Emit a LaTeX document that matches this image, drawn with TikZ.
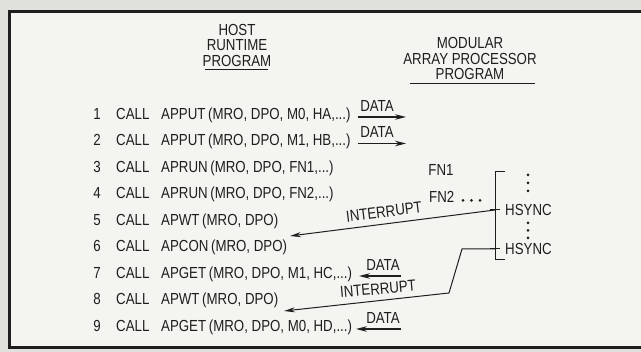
\documentclass[tikz,border=0pt]{standalone}
\usepackage{fontspec}
\setmainfont[FakeStretch=0.83]{Liberation Sans}
\usetikzlibrary{arrows.meta}
\definecolor{paper}{HTML}{F4F4F1}
\definecolor{margin}{HTML}{E0E0DD}
\definecolor{ink}{HTML}{1E1E1E}

\begin{document}
\begin{tikzpicture}[x=1pt, y=-1pt,
    txt/.style={inner sep=0pt, text=ink, font=\fontsize{16}{15.5}\selectfont},
    dataarrow/.style={draw=ink, line width=1.3pt, -{Stealth[length=11pt, width=5.5pt]}},
    intarrow/.style={draw=ink, line width=1pt, -{Stealth[length=11pt, width=5pt]}},
    bracketline/.style={draw=ink, line width=1pt},
    dot/.style={fill=ink}]
    \useasboundingbox (0,0) rectangle (641,352);

    % Paper and the heavy frame
    \fill[margin] (0,0) rectangle (641,352);
    \fill[paper] (9,10) rectangle (641,349);
    \draw[ink, line width=3pt] (641,11.5) -- (9.5,11.5) -- (9.5,347.5) -- (641,347.5);

    % Column headings
    \node[txt, align=center] (host) at (237,45) {HOST\\RUNTIME\\PROGRAM};
    \draw[ink, line width=1pt] (205,70) -- (268,70);
    \node[txt, align=center] (map) at (470,58.5) {MODULAR\\ARRAY PROCESSOR\\PROGRAM};
    \draw[ink, line width=1pt] (410,83.5) -- (535,83.5);

    % The nine calls
    \foreach \i/\fn in {1/{APPUT\,(MRO, DPO, M0, HA,...)},
                        2/{APPUT\,(MRO, DPO, M1, HB,...)},
                        3/{APRUN\,(MRO, DPO, FN1,...)},
                        4/{APRUN\,(MRO, DPO, FN2,...)},
                        5/{APWT\,(MRO, DPO)},
                        6/{APCON\,(MRO, DPO)},
                        7/{APGET\,(MRO, DPO, M1, HC,...)},
                        8/{APWT\,(MRO, DPO)},
                        9/{APGET\,(MRO, DPO, M0, HD,...)}} {
        \node[txt, anchor=base] (n\i) at (97,{119.5+26.5*(\i-1)}) {\i};
        \node[txt, anchor=base west] (c\i) at (116,{119.5+26.5*(\i-1)}) {CALL};
        \node[txt, anchor=base west] (f\i) at (161,{119.5+26.5*(\i-1)}) {\fn};
    }

    % Data transfers
    \coordinate (d1a) at (358,117);
    \coordinate (d1b) at (406,117);
    \draw[dataarrow] (d1a) -- (d1b);
    \node[txt] (d1) at (377,106) {DATA};
    \coordinate (d2a) at (358,143.5);
    \coordinate (d2b) at (406,143.5);
    \draw[dataarrow] (d2a) -- (d2b);
    \node[txt] (d2) at (377,132.5) {DATA};
    \coordinate (d7a) at (401,276);
    \coordinate (d7b) at (359,276);
    \draw[dataarrow] (d7a) -- (d7b);
    \node[txt] (d7) at (383,265) {DATA};
    \coordinate (d9a) at (401,329);
    \coordinate (d9b) at (356,329);
    \draw[dataarrow] (d9a) -- (d9b);
    \node[txt] (d9) at (383,318) {DATA};

    % Array processor side
    \node[txt] (fn1) at (441,170) {FN1};
    \node[txt, anchor=base west] (fn2) at (429,202.5) {FN2};
    \foreach \x in {463,471.5,480} \fill[dot] (\x,200.5) circle (1.5);
    \foreach \y in {175,183,191,223,230.5,238} \fill[dot] (528,\y) circle (1.5);

    % Bracket with the two sync points
    \draw[bracketline] (505,172) -- (495,172) -- (495,260) -- (505,260);
    \coordinate (k1) at (495,210);
    \coordinate (k2) at (495,249);
    \draw[bracketline] (490,210) -- (500,210);
    \draw[bracketline] (490,249) -- (500,249);
    \node[txt, anchor=west] (hs1) at (505,210) {HSYNC};
    \node[txt, anchor=west] (hs2) at (505,249) {HSYNC};

    % Interrupts back to the host
    \coordinate (i1) at (290,236);
    \draw[intarrow] (k1) -- (i1);
    \node[txt, rotate=7] (int1) at (384,212) {INTERRUPT};
    \coordinate (b2) at (462,249);
    \coordinate (b3) at (449,293);
    \coordinate (i2) at (284,311);
    \draw[intarrow] (k2) -- (b2) -- (b3) -- (i2);
    \node[txt, rotate=5] (int2) at (378,289) {INTERRUPT};
\end{tikzpicture}
\end{document}
